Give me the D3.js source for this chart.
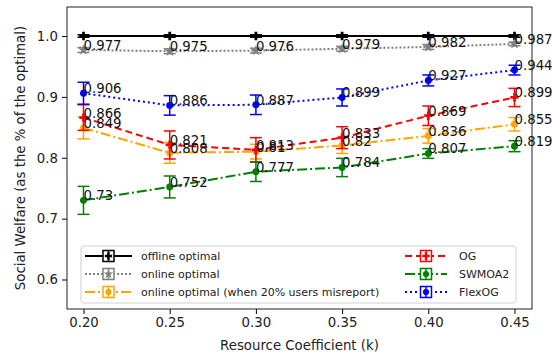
<!DOCTYPE html>
<html>
<head>
<meta charset="utf-8">
<script src="https://cdn.jsdelivr.net/npm/d3@7"></script>
<style>
  body { margin: 0; background: #fff; }
  text { font-family: "DejaVu Sans", sans-serif; }
</style>
</head>
<body>
<script>
const w = 552;
const h = 356;

const kValues = [0.20, 0.25, 0.30, 0.35, 0.40, 0.45];
const xTicks = ["0.20", "0.25", "0.30", "0.35", "0.40", "0.45"];
const yTicks = [0.6, 0.7, 0.8, 0.9, 1.0];

const offlineVals = [1, 1, 1, 1, 1, 1];
const offlineErr = [0.002, 0.002, 0.002, 0.002, 0.002, 0.002];
const onlineVals = [0.977, 0.975, 0.976, 0.979, 0.982, 0.987];
const onlineErr = [0.004, 0.004, 0.004, 0.004, 0.004, 0.003];
const misreportVals = [0.849, 0.808, 0.81, 0.82, 0.836, 0.855];
const misreportErr = [0.018, 0.017, 0.012, 0.013, 0.012, 0.011];
const ogVals = [0.866, 0.821, 0.813, 0.833, 0.869, 0.899];
const ogErr = [0.021, 0.023, 0.02, 0.018, 0.016, 0.015];
const swmoaVals = [0.73, 0.752, 0.777, 0.784, 0.807, 0.819];
const swmoaErr = [0.023, 0.018, 0.016, 0.015, 0.008, 0.009];
const flexVals = [0.906, 0.886, 0.887, 0.899, 0.927, 0.944];
const flexErr = [0.018, 0.016, 0.016, 0.014, 0.009, 0.008];

const series = [
  {name: "offline optimal", vals: offlineVals, err: offlineErr, color: "#000000", dash: null, sym: d3.symbolCross, label: false},
  {name: "online optimal", vals: onlineVals, err: onlineErr, color: "#808080", dash: "2,2", sym: d3.symbolStar, label: true},
  {name: "online optimal (when 20% users misreport)", vals: misreportVals, err: misreportErr, color: "#FFA500", dash: "10,3,2,3", sym: d3.symbolCircle, label: true},
  {name: "OG", vals: ogVals, err: ogErr, color: "#FF0000", dash: "7,4", sym: d3.symbolCross, label: true},
  {name: "SWMOA2", vals: swmoaVals, err: swmoaErr, color: "#008000", dash: "10,3,2,3", sym: d3.symbolCircle, label: true},
  {name: "FlexOG", vals: flexVals, err: flexErr, color: "#0000FF", dash: "2,3", sym: d3.symbolCircle, label: true}
];

const plotLeft = 67, plotRight = 532, plotTop = 7, plotBottom = 309;

let svg = d3.select("body").append("svg")
  .attr("width", w)
  .attr("height", h);

let xScale = d3.scaleLinear()
  .domain([0.2 - 16.5 / 1724, 0.45 + 17.5 / 1724])
  .range([plotLeft, plotRight]);

let yScale = d3.scaleLinear()
  .domain([0.6 - 29.5 / 608.75, 1.0 + 29 / 608.75])
  .range([plotBottom, plotTop]);

// axes
svg.append("g")
  .attr("transform", "translate(0," + plotBottom + ")")
  .call(d3.axisBottom(xScale).tickValues(kValues).tickFormat((d, i) => xTicks[i]).tickSize(5).tickPadding(4))
  .call(g => g.select(".domain").remove())
  .call(g => g.selectAll("text").style("font-size", "13.3px").attr("fill", "#222"));

svg.append("g")
  .attr("transform", "translate(" + plotLeft + ",0)")
  .call(d3.axisLeft(yScale).tickValues(yTicks).tickFormat(d3.format(".1f")).tickSize(5).tickPadding(4))
  .call(g => g.select(".domain").remove())
  .call(g => g.selectAll("text").style("font-size", "13.3px").attr("fill", "#222"));

svg.append("rect")
  .attr("x", plotLeft).attr("y", plotTop)
  .attr("width", plotRight - plotLeft).attr("height", plotBottom - plotTop)
  .attr("fill", "none").attr("stroke", "#222").attr("stroke-width", 1);

// series
let line = d3.line()
  .x((d, i) => xScale(kValues[i]))
  .y(d => yScale(d));

series.forEach(s => {
  let g = svg.append("g");
  g.append("path")
    .attr("d", line(s.vals))
    .attr("fill", "none")
    .attr("stroke", s.color)
    .attr("stroke-width", 2)
    .attr("stroke-dasharray", s.dash);

  s.vals.forEach((v, i) => {
    let x = xScale(kValues[i]);
    let y1 = yScale(v - s.err[i]), y2 = yScale(v + s.err[i]);
    g.append("line").attr("x1", x).attr("x2", x).attr("y1", y1).attr("y2", y2)
      .attr("stroke", s.color).attr("stroke-width", 1.5);
    [y1, y2].forEach(yy => {
      g.append("line").attr("x1", x - 6).attr("x2", x + 6).attr("y1", yy).attr("y2", yy)
        .attr("stroke", s.color).attr("stroke-width", 1.5);
    });
    g.append("path")
      .attr("d", d3.symbol().type(s.sym).size(38)())
      .attr("transform", "translate(" + x + "," + yScale(v) + ")")
      .attr("fill", s.color);
  });
});

// value labels
series.filter(s => s.label).forEach(s => {
  svg.selectAll(null)
    .data(s.vals)
    .enter()
    .append("text")
    .attr("x", (d, i) => xScale(kValues[i]))
    .attr("y", d => yScale(d))
    .style("font-size", "13.3px")
    .attr("fill", "#111")
    .text(d => String(d));
});

// axis labels
svg.append("text")
  .attr("x", (plotLeft + plotRight) / 2)
  .attr("y", 350)
  .style("text-anchor", "middle")
  .style("font-size", "13.3px")
  .attr("fill", "#222")
  .text("Resource Coefficient (k)");

svg.append("text")
  .attr("transform", "translate(25," + ((plotTop + plotBottom) / 2) + ") rotate(-90)")
  .style("text-anchor", "middle")
  .style("font-size", "13.3px")
  .attr("fill", "#222")
  .text("Social Welfare (as the % of the optimal)");

// legend
let legend = svg.append("g");
legend.append("rect")
  .attr("x", 81).attr("y", 246).attr("width", 435).attr("height", 57)
  .attr("rx", 3)
  .attr("fill", "#fff").attr("fill-opacity", 0.8)
  .attr("stroke", "#d0d0d0").attr("stroke-width", 1);

series.forEach((s, i) => {
  let col = Math.floor(i / 3), row = i % 3;
  let lx = col === 0 ? 85 : 405;
  let lw = col === 0 ? 47 : 42;
  let ly = 256 + row * 18;
  let mx = lx + lw / 2;
  let item = legend.append("g");
  item.append("line")
    .attr("x1", lx).attr("x2", lx + lw).attr("y1", ly).attr("y2", ly)
    .attr("stroke", s.color).attr("stroke-width", 2)
    .attr("stroke-dasharray", s.dash);
  item.append("rect")
    .attr("x", mx - 5.5).attr("y", ly - 5.5).attr("width", 11).attr("height", 11)
    .attr("fill", "#fff").attr("stroke", s.color).attr("stroke-width", 1.5);
  item.append("line").attr("x1", mx).attr("x2", mx).attr("y1", ly - 5.5).attr("y2", ly + 5.5)
    .attr("stroke", s.color).attr("stroke-width", 1.5);
  item.append("path")
    .attr("d", d3.symbol().type(s.sym).size(30)())
    .attr("transform", "translate(" + mx + "," + ly + ")")
    .attr("fill", s.color);
  item.append("text")
    .attr("x", col === 0 ? 141 : 459)
    .attr("y", ly + 4)
    .style("font-size", "11px")
    .attr("fill", "#222")
    .text(s.name);
});
</script>
</body>
</html>
